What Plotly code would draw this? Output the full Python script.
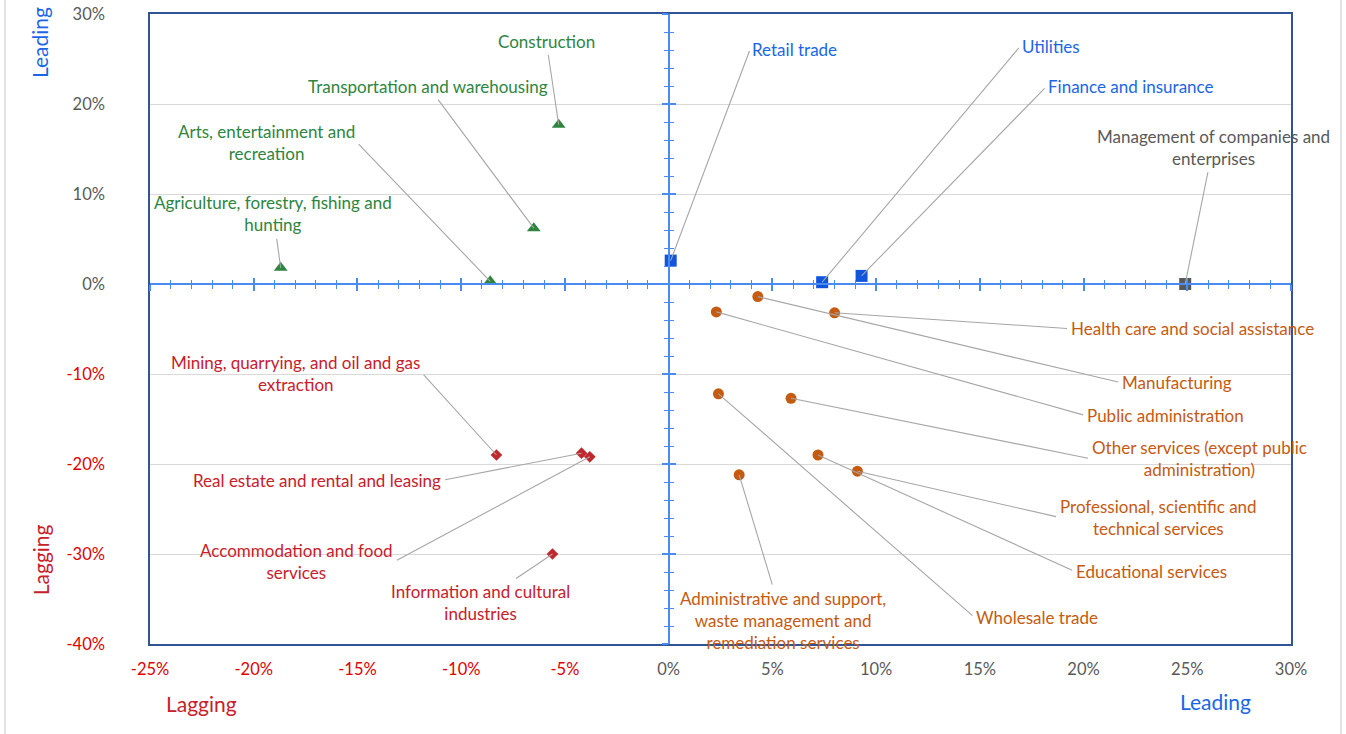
import plotly.graph_objects as go

# ---------------- data ----------------
sectors = [
    "Construction", "Transportation and warehousing", "Arts, entertainment and recreation",
    "Agriculture, forestry, fishing and hunting",
    "Retail trade", "Utilities", "Finance and insurance",
    "Management of companies and enterprises",
    "Health care and social assistance", "Manufacturing", "Public administration",
    "Other services (except public administration)", "Professional, scientific and technical services",
    "Educational services", "Wholesale trade",
    "Administrative and support, waste management and remediation services",
    "Mining, quarrying, and oil and gas extraction", "Real estate and rental and leasing",
    "Accommodation and food services", "Information and cultural industries",
]
x_change = [-5.3, -6.5, -8.6, -18.7,
            0.1, 7.4, 9.3, 24.9,
            8.0, 4.3, 2.3, 5.9, 9.1, 7.2, 2.4, 3.4,
            -8.3, -4.2, -3.8, -5.6]
y_change = [17.7, 6.2, 0.3, 1.8,
            2.6, 0.2, 0.9, 0.0,
            -3.2, -1.4, -3.1, -12.7, -20.8, -19.0, -12.2, -21.2,
            -19.0, -18.8, -19.2, -30.0]
group = ["up"] * 4 + ["lead"] * 3 + ["mgmt"] + ["down"] * 8 + ["lag"] * 4

x_ticks = [-25, -20, -15, -10, -5, 0, 5, 10, 15, 20, 25, 30]
y_ticks = [-40, -30, -20, -10, 0, 10, 20, 30]

# ---------------- styles ----------------
colors = {"up": "#2E8540", "lead": "#1155DD", "mgmt": "#595959", "down": "#C55A11", "lag": "#C0282D"}
text_colors = {"up": "#2E8540", "lead": "#1A66E6", "mgmt": "#595959", "down": "#C55A11", "lag": "#C8202A"}
symbols = {"up": "triangle-up", "lead": "square", "mgmt": "square", "down": "circle", "lag": "diamond"}
sizes = {"up": 12, "lead": 12, "mgmt": 12, "down": 11, "lag": 9}

# label text (with line breaks), label anchor positions and anchor sides (layout only)
label_text = [
    "Construction", "Transportation and warehousing", "Arts, entertainment and<br>recreation",
    "Agriculture, forestry, fishing and<br>hunting",
    "Retail trade", "Utilities", "Finance and insurance",
    "Management of companies and<br>enterprises",
    "Health care and social assistance", "Manufacturing", "Public administration",
    "Other services (except public<br>administration)", "Professional, scientific and<br>technical services",
    "Educational services", "Wholesale trade",
    "Administrative and support,<br>waste management and<br>remediation services",
    "Mining, quarrying, and oil and gas<br>extraction", "Real estate and rental and leasing",
    "Accommodation and food<br>services", "Information and cultural<br>industries",
]
label_pos = [
    (-5.9, 27.0), (-11.6, 22.0), (-15.01, 15.7), (-19.06, 7.8),
    (3.93, 26.1), (16.94, 26.4), (18.19, 21.9), (26.24, 15.2),
    (19.30, -4.96), (21.76, -10.95), (20.07, -14.6), (20.31, -19.4),
    (18.77, -25.9), (19.54, -31.9), (14.72, -37.0), (5.52, -37.4),
    (-11.88, -9.9), (-10.87, -21.8), (-13.18, -30.8), (-9.08, -35.4),
]
label_anchor = [
    "center", "center", "right", "center",
    "left", "left", "left", "center",
    "left", "left", "left", "left",
    "left", "left", "left", "center",
    "right", "right", "right", "center",
]

FONT = "Lato"
LBL = 17
XR = [-25, 30]
YR = [-40, 30]

fig = go.Figure()

for g in ["up", "lead", "mgmt", "down", "lag"]:
    idx = [i for i, gg in enumerate(group) if gg == g]
    fig.add_trace(go.Scatter(
        x=[x_change[i] for i in idx], y=[y_change[i] for i in idx],
        mode="markers", name=g, showlegend=False, hoverinfo="text",
        text=[sectors[i] for i in idx],
        marker=dict(symbol=symbols[g], size=sizes[g], color=colors[g], line=dict(width=0)),
        cliponaxis=False,
    ))

# empty traces to instantiate the crossing axes
for xa, ya in [("x2", "y"), ("x3", "y"), ("x", "y2"), ("x", "y3")]:
    fig.add_trace(go.Scatter(x=[None], y=[None], xaxis=xa, yaxis=ya, showlegend=False, hoverinfo="skip"))

def pct(v):
    return f"{v}%"

xt_text = [f'<span style="color:{"#E00000" if v < 0 else "#595959"}">{pct(v)}</span>' for v in x_ticks]
yt_text = [f'<span style="color:{"#E00000" if v < 0 else "#595959"}">{pct(v)}</span>' for v in y_ticks]

annotations = []
for i, t in enumerate(label_text):
    annotations.append(dict(
        x=x_change[i], y=y_change[i], xref="x", yref="y",
        ax=label_pos[i][0], ay=label_pos[i][1], axref="x", ayref="y",
        xanchor=label_anchor[i], yanchor="middle",
        text=t, showarrow=True, arrowhead=0, arrowwidth=1.1, arrowcolor="#A6A6A6",
        standoff=0, startstandoff=2,
        font=dict(family=FONT, size=LBL, color=text_colors[group[i]]),
        align="center",
    ))

# axis titles
annotations += [
    dict(text="Leading", x=-0.0964, y=0.954, xref="paper", yref="paper", showarrow=False,
         textangle=-90, font=dict(family=FONT, size=21, color="#1A66E6"), xanchor="center", yanchor="middle"),
    dict(text="Lagging", x=-0.0964, y=0.133, xref="paper", yref="paper", showarrow=False,
         textangle=-90, font=dict(family=FONT, size=21, color="#C8202A"), xanchor="center", yanchor="middle"),
    dict(text="Lagging", x=0.0447, y=-0.0937, xref="paper", yref="paper", showarrow=False,
         font=dict(family=FONT, size=21, color="#C8202A"), xanchor="center", yanchor="middle"),
    dict(text="Leading", x=0.9334, y=-0.0905, xref="paper", yref="paper", showarrow=False,
         font=dict(family=FONT, size=21, color="#1A66E6"), xanchor="center", yanchor="middle"),
]

AX_BLUE = "#4A8BF0"
xpos = (0 - YR[0]) / (YR[1] - YR[0])
ypos = (0 - XR[0]) / (XR[1] - XR[0])

common_minor_x = dict(dtick=1, ticklen=4, tickcolor=AX_BLUE, tickwidth=1.2)
common_minor_y = dict(dtick=2, ticklen=4, tickcolor=AX_BLUE, tickwidth=1.2)

fig.update_layout(
    width=1346, height=734,
    margin=dict(l=150, r=55, t=14, b=90, autoexpand=False),
    paper_bgcolor="white", plot_bgcolor="white",
    showlegend=False,
    font=dict(family=FONT, size=16.5, color="#595959"),
    xaxis=dict(range=XR, tickvals=x_ticks, ticktext=xt_text, showgrid=False, zeroline=False,
               showline=True, mirror=True, linecolor="#2F5597", linewidth=1.5, ticks="",
               ticklabelstandoff=9, tickfont=dict(family=FONT, size=16.5), automargin=False),
    yaxis=dict(range=YR, tickvals=y_ticks, ticktext=yt_text, showgrid=True, gridcolor="#D9D9D9",
               gridwidth=1, zeroline=False, showline=True, mirror=True, linecolor="#2F5597",
               linewidth=1.5, ticks="", ticklabelstandoff=40, tickfont=dict(family=FONT, size=16.5),
               automargin=False),
    xaxis2=dict(overlaying="x", range=XR, anchor="free", position=xpos, showline=True,
                linecolor=AX_BLUE, linewidth=2, ticks="outside", ticklen=6, tickwidth=1.5,
                tickcolor=AX_BLUE, tick0=0, dtick=5, showticklabels=False, showgrid=False, zeroline=False,
                automargin=False, minor=dict(ticks="outside", **common_minor_x)),
    xaxis3=dict(overlaying="x", range=XR, anchor="free", position=xpos, showline=False,
                ticks="inside", ticklen=6, tickwidth=1.5, side="bottom",
                tickcolor=AX_BLUE, tick0=0, dtick=5, showticklabels=False, showgrid=False, zeroline=False,
                automargin=False, minor=dict(ticks="inside", **common_minor_x)),
    yaxis2=dict(overlaying="y", range=YR, anchor="free", position=ypos, showline=True,
                linecolor=AX_BLUE, linewidth=2, ticks="outside", ticklen=6, tickwidth=1.5,
                tickcolor=AX_BLUE, tick0=0, dtick=10, showticklabels=False, showgrid=False, zeroline=False,
                automargin=False, minor=dict(ticks="outside", **common_minor_y)),
    yaxis3=dict(overlaying="y", range=YR, anchor="free", position=ypos, showline=False,
                ticks="inside", ticklen=6, tickwidth=1.5, side="left",
                tickcolor=AX_BLUE, tick0=0, dtick=10, showticklabels=False, showgrid=False, zeroline=False,
                automargin=False, minor=dict(ticks="inside", **common_minor_y)),
    annotations=annotations,
    shapes=[dict(type="rect", xref="paper", yref="paper", x0=(5 - 150) / 1141, x1=(1341 - 150) / 1141,
                 y0=-0.2, y1=1.1, line=dict(color="#D9D9D9", width=1.5), layer="below")],
)

fig.write_html("out.html", config={"displayModeBar": False},
               post_script="document.body.style.margin='0';document.body.style.overflow='hidden';")
